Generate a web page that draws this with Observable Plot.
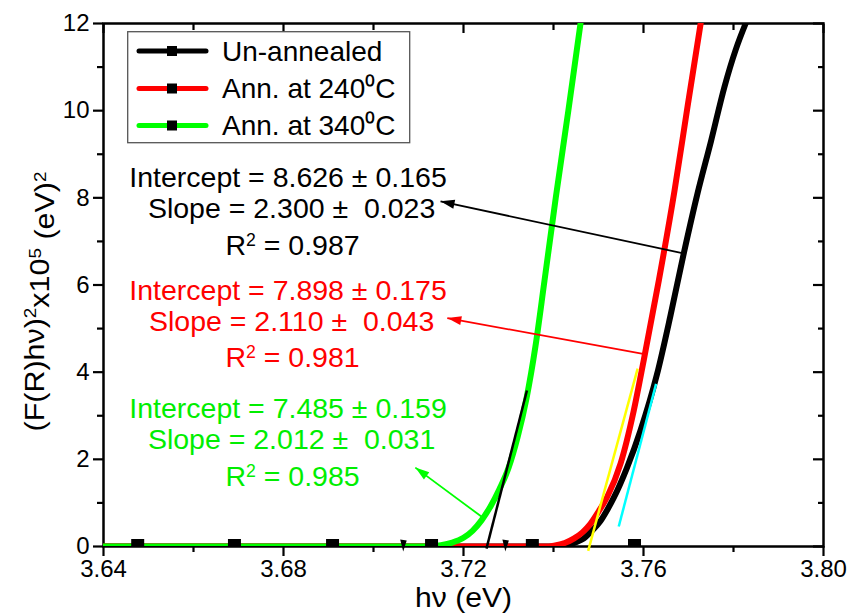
<!DOCTYPE html>
<html>
<head>
<meta charset="utf-8">
<script src="https://cdn.jsdelivr.net/npm/d3@7"></script>
<script src="https://cdn.jsdelivr.net/npm/@observablehq/plot@0.6"></script>
<style>
  body { margin: 0; background: #fff; }
  #wrap { position: relative; width: 847px; height: 615px; font-family: "Liberation Sans", Arial, sans-serif; }
  #wrap svg text { white-space: pre; }
  #legend { position: absolute; left: 127px; top: 31px; }
</style>
</head>
<body>
<div id="wrap"></div>
<script>
// ---------- data ----------
const xMajorTicks = [3.64, 3.68, 3.72, 3.76, 3.80];
const xMinorTicks = [3.66, 3.70, 3.74, 3.78];
const yMajorTicks = [0, 2, 4, 6, 8, 10, 12];
const yMinorTicks = [1, 3, 5, 7, 9, 11];

const seriesNames = ["Un-annealed", "Ann. at 240⁰C", "Ann. at 340⁰C"];
const seriesColors = ["#000000", "#ff0000", "#00ff00"];

const unannealedX = [3.640, 3.705, 3.7400, 3.7430, 3.7450, 3.7467, 3.7485, 3.7504, 3.7520, 3.7534, 3.7563, 3.7593, 3.7630, 3.7660, 3.7690, 3.7720, 3.7750, 3.7780, 3.7805, 3.7827];
const unannealedY = [0, 0, 0, 0.03, 0.10, 0.18, 0.36, 0.58, 0.85, 1.12, 1.80, 2.65, 3.95, 5.30, 6.75, 8.10, 9.30, 10.55, 11.40, 12.0];

const ann240X = [3.640, 3.705, 3.7380, 3.7401, 3.7425, 3.7445, 3.7465, 3.7482, 3.7500, 3.7519, 3.7549, 3.7578, 3.7601, 3.7634, 3.7669, 3.7698, 3.7727];
const ann240Y = [0, 0, 0, 0.02, 0.08, 0.18, 0.33, 0.52, 0.80, 1.13, 1.90, 3.10, 4.30, 6.10, 8.17, 10.1, 12.0];

const ann340X = [3.640, 3.705, 3.7120, 3.7150, 3.7175, 3.7200, 3.7220, 3.7240, 3.7260, 3.7280, 3.7300, 3.7320, 3.7340, 3.7360, 3.7380, 3.7405, 3.7433, 3.7460];
const ann340Y = [0, 0, 0, 0.03, 0.09, 0.20, 0.36, 0.60, 0.92, 1.32, 1.80, 2.50, 3.40, 4.60, 6.10, 8.00, 10.0, 12.0];

const markerX = [3.6476, 3.6691, 3.6909, 3.7129, 3.7353, 3.7580];
const flagX = [3.7066, 3.7293];

const fitColors = ["#000000", "#ffff00", "#00ffff"];
const fitX1 = [3.7251, 3.7477, 3.7545];
const fitY1 = [-0.05, -0.10, 0.46];
const fitX2 = [3.7341, 3.7587, 3.7628];
const fitY2 = [3.58, 4.08, 3.73];

const arrowColors = ["#000000", "#ff0000", "#00ff00"];
const arrowTailX = [3.7686, 3.7599, 3.7242];
const arrowTailY = [6.73, 4.42, 0.67];
const arrowTipX = [3.7149, 3.7164, 3.7093];
const arrowTipY = [7.92, 5.24, 1.81];

const annoLines = [
  "Intercept = 8.626 ± 0.165", "Slope = 2.300 ±  0.023", "R² = 0.987",
  "Intercept = 7.898 ± 0.175", "Slope = 2.110 ±  0.043", "R² = 0.981",
  "Intercept = 7.485 ± 0.159", "Slope = 2.012 ±  0.031", "R² = 0.985"
];
const annoGroup = [0, 0, 0, 1, 1, 1, 2, 2, 2];
const annoColors = ["#000000", "#ff0000", "#00ee00"];
const annoX = [3.6810, 3.6818, 3.6820, 3.6810, 3.6818, 3.6820, 3.6810, 3.6818, 3.6820];
const annoY = [8.455, 7.756, 6.897, 5.875, 5.164, 4.337, 3.166, 2.444, 1.606];

const xLabel = "hν (eV)";
const yLabel = "(F(R)hν)²x10⁵ (eV)²";
// same label split into normal / superscript pieces for rendering
const yLabelParts = ["(F(R)hν)", "2", "x10", "5", " (eV)", "2"];
const yLabelSup = [false, true, false, true, false, true];

// ---------- build ----------
const FONT = '"Liberation Sans", Arial, sans-serif';
const rowsOf = (xs, ys) => xs.map((x, i) => ({x, y: ys[i]}));
const curves = [rowsOf(unannealedX, unannealedY), rowsOf(ann240X, ann240Y), rowsOf(ann340X, ann340Y)];
const fits = fitX1.map((x1, i) => ({x1, y1: fitY1[i], x2: fitX2[i], y2: fitY2[i], color: fitColors[i]}));
const arrows = arrowTailX.map((x, i) => ({x1: x, y1: arrowTailY[i], x2: arrowTipX[i], y2: arrowTipY[i], color: arrowColors[i]}));
const annos = annoLines.map((t, i) => ({text: t, x: annoX[i], y: annoY[i], g: annoGroup[i]}));

const layout = {
  width: 847, height: 615,
  marginLeft: 103, marginRight: 24, marginTop: 23, marginBottom: 69,
  x: {domain: [3.64, 3.80]},
  y: {domain: [0, 12]},
  style: {fontFamily: FONT, fontSize: "24px", color: "black", background: "white", overflow: "visible"}
};

// first pass: obtain Plot's own scales for arrowhead orientation
const probe = Plot.plot({...layout, marks: [Plot.frame()]});
const psx = probe.scale("x"), psy = probe.scale("y");
const SX = d3.scaleLinear().domain(psx.domain).range(psx.range);
const SY = d3.scaleLinear().domain(psy.domain).range(psy.range);

const headSymbol = {draw(ctx) { ctx.moveTo(0, 0); ctx.lineTo(-14, -4.5); ctx.lineTo(-14, 4.5); ctx.closePath(); }};
const markerSymbol = {draw(ctx) { ctx.rect(-6.5, -7.5, 13, 8); }};
const flagSymbol = {draw(ctx) { ctx.moveTo(-3, -7); ctx.lineTo(3.5, -6); ctx.lineTo(0, 5); ctx.closePath(); }};

const marks = [
  Plot.frame({strokeWidth: 2.5}),
  Plot.axisX({anchor: "bottom", ticks: xMajorTicks, tickSize: 10, tickPadding: 3, strokeWidth: 2.2, tickFormat: d => d.toFixed(2), fontSize: 24, label: null}),
  Plot.axisX({anchor: "bottom", ticks: xMinorTicks, tickSize: 6, strokeWidth: 2.2, fill: "none", label: null}),
  Plot.axisX({anchor: "top", ticks: xMajorTicks, tickSize: -9, strokeWidth: 2.2, fill: "none", label: null}),
  Plot.axisX({anchor: "top", ticks: xMinorTicks, tickSize: -6, strokeWidth: 2.2, fill: "none", label: null}),
  Plot.axisY({anchor: "left", ticks: yMajorTicks, tickSize: 10, tickPadding: 4, strokeWidth: 2.2, tickFormat: d => String(d), fontSize: 24, label: null}),
  Plot.axisY({anchor: "left", ticks: yMinorTicks, tickSize: 6, strokeWidth: 2.2, fill: "none", label: null}),
  Plot.axisY({anchor: "right", ticks: yMajorTicks, tickSize: -11, strokeWidth: 2.2, fill: "none", label: null}),
  Plot.axisY({anchor: "right", ticks: yMinorTicks, tickSize: -6, strokeWidth: 2.2, fill: "none", label: null}),
  ...curves.map((rows, i) => Plot.line(rows, {x: "x", y: "y", stroke: seriesColors[i], strokeWidth: 6, curve: "monotone-x", clip: true})),
  ...fits.map(f => Plot.link([f], {x1: "x1", y1: "y1", x2: "x2", y2: "y2", stroke: f.color, strokeWidth: 2.5})),
  Plot.dot(markerX, {x: d => d, y: () => 0, symbol: markerSymbol, fill: "black", stroke: "none"}),
  Plot.dot(flagX, {x: d => d, y: () => 0, symbol: flagSymbol, fill: "black", stroke: "none"}),
  ...arrows.map(a => Plot.link([a], {x1: "x1", y1: "y1", x2: "x2", y2: "y2", stroke: a.color, strokeWidth: 1.8})),
  ...arrows.map(a => {
    const ang = Math.atan2(SY(a.y2) - SY(a.y1), SX(a.x2) - SX(a.x1)) * 180 / Math.PI;
    return Plot.dot([a], {x: "x2", y: "y2", symbol: headSymbol, fill: a.color, stroke: "none", rotate: ang});
  }),
  ...annoColors.map((c, g) => Plot.text(annos.filter(d => d.g === g), {x: "x", y: "y", text: "text", fill: c, fontSize: 28.5, textAnchor: "middle"})),
  Plot.text([xLabel], {frameAnchor: "bottom", dy: 60, fontSize: 28, fill: "black"}),
  Plot.text([yLabel], {frameAnchor: "left", textAnchor: "middle", dx: -68, dy: 16.5, rotate: -90, fontSize: 27, fill: "black"})
];

const chart = Plot.plot({...layout, marks});
const wrap = document.getElementById("wrap");
wrap.appendChild(chart);

const texts = d3.select(chart).selectAll("text");

// y label with true superscripts, fitted to the reference length
texts.filter(function() { return this.textContent === yLabel; }).each(function() {
  const t = d3.select(this);
  t.text(null);
  let raised = false;
  yLabelParts.forEach((p, i) => {
    const sup = yLabelSup[i];
    const ts = t.append("tspan").text(p);
    if (sup && !raised) { ts.attr("dy", "-0.5em"); raised = true; }
    else if (!sup && raised) { ts.attr("dy", "0.5em"); raised = false; }
    if (sup) ts.attr("font-size", "0.62em");
  });
  t.attr("textLength", 260).attr("lengthAdjust", "spacingAndGlyphs");
});

// x label length
texts.filter(function() { return this.textContent === xLabel; })
  .attr("textLength", 97).attr("lengthAdjust", "spacingAndGlyphs");

// R² annotations with a raised small 2
texts.filter(function() { return this.textContent.startsWith("R²"); }).each(function() {
  const t = d3.select(this);
  const rest = this.textContent.slice(2);
  t.text(null);
  t.append("tspan").text("R");
  t.append("tspan").attr("dy", "-0.5em").attr("font-size", "0.62em").text("2");
  t.append("tspan").attr("dy", "0.31em").text(rest);
});

// legend (inside the plot frame, top-left)
const lg = d3.select(wrap).append("svg").attr("id", "legend").attr("width", 284).attr("height", 113)
  .style("font-family", FONT);
lg.append("rect").attr("x", 0.7).attr("y", 0.7).attr("width", 282).attr("height", 111)
  .attr("fill", "white").attr("stroke", "#555").attr("stroke-width", 1.3);
const rowY = [20, 57.5, 94.5];
seriesNames.forEach((name, i) => {
  const g = lg.append("g").attr("transform", `translate(0,${rowY[i]})`);
  g.append("line").attr("x1", 12).attr("x2", 79).attr("y1", 0).attr("y2", 0)
    .attr("stroke", seriesColors[i]).attr("stroke-width", 5).attr("stroke-linecap", "round");
  g.append("rect").attr("x", 40).attr("y", -5).attr("width", 10).attr("height", 10).attr("fill", "black");
  g.append("text").attr("x", 95).attr("y", 0).attr("dy", "0.35em").attr("font-size", 28).attr("fill", "black").text(name);
});
</script>
</body>
</html>
